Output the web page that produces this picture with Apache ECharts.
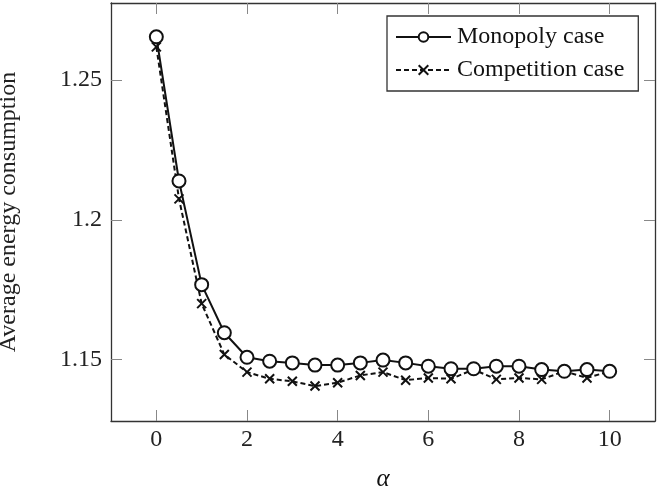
<!DOCTYPE html>
<html>
<head>
<meta charset="utf-8">
<script src="https://cdn.jsdelivr.net/npm/echarts@6/dist/echarts.min.js"></script>
<style>
  html, body { margin: 0; padding: 0; background: #fff; }
  #chart { width: 663px; height: 490px; }
</style>
</head>
<body>
<div id="chart"></div>
<script>
// alpha values (x axis)
const alpha = [0, 0.5, 1, 1.5, 2, 2.5, 3, 3.5, 4, 4.5, 5, 5.5, 6, 6.5, 7, 7.5, 8, 8.5, 9, 9.5, 10];

const monopoly = [1.2655, 1.2139, 1.1768, 1.1596, 1.1508, 1.1494, 1.1488, 1.1480, 1.1480, 1.1488, 1.1498,
  1.1488, 1.1476, 1.1467, 1.1467, 1.1476, 1.1476, 1.1464, 1.1458, 1.1464, 1.1458];

const competition = [1.2619, 1.2075, 1.1700, 1.1518, 1.1455, 1.1431, 1.1422, 1.1405, 1.1417, 1.1443, 1.1455,
  1.1426, 1.1434, 1.1431, 1.1464, 1.1429, 1.1434, 1.1429, 1.1458, 1.1434, 1.1458];

const xTicks = [0, 2, 4, 6, 8, 10];
const yTicks = [1.15, 1.2, 1.25];

const font = 'Liberation Serif';
const frameColor = '#333';
const tickColor = '#888';

const chart = echarts.init(document.getElementById('chart'));

const pair = (xs, ys) => xs.map((x, i) => [x, ys[i]]);

const baseX = {
  type: 'value',
  min: -1,
  max: 11,
  axisLine: { show: true, onZero: false, lineStyle: { color: frameColor, width: 1.3 } },
  axisTick: { show: true, inside: true, length: 11, customValues: xTicks, lineStyle: { color: tickColor, width: 1 } },
  splitLine: { show: false }
};
const baseY = {
  type: 'value',
  min: 1.128,
  max: 1.2776,
  axisLine: { show: true, onZero: false, lineStyle: { color: frameColor, width: 1.3 } },
  axisTick: { show: true, inside: true, length: 11, customValues: yTicks, lineStyle: { color: tickColor, width: 1 } },
  splitLine: { show: false }
};

const option = {
  animation: false,
  backgroundColor: '#fff',
  textStyle: { fontFamily: font },
  grid: { left: 111, right: 8, top: 3, bottom: 69, outerBoundsMode: 'none', containLabel: false },
  legend: {
    orient: 'vertical',
    left: 387,
    top: 16,
    padding: [9, 14, 9, 8],
    itemGap: 9,
    itemWidth: 55,
    itemHeight: 12,
    backgroundColor: '#fff',
    borderColor: frameColor,
    borderWidth: 1.3,
    borderRadius: 0,
    textStyle: { fontFamily: font, fontSize: 24, color: '#111', padding: [0, 0, 0, 1] },
    data: ['Monopoly case', 'Competition case']
  },
  xAxis: [
    Object.assign({}, baseX, {
      position: 'bottom',
      name: 'α',
      nameLocation: 'middle',
      nameGap: 46,
      nameTextStyle: { fontFamily: font, fontStyle: 'italic', fontSize: 25, color: '#111' },
      axisLabel: { show: true, customValues: xTicks, margin: 7, fontFamily: font, fontSize: 24, color: '#222' }
    }),
    Object.assign({}, baseX, { position: 'top', axisLabel: { show: false } })
  ],
  yAxis: [
    Object.assign({}, baseY, {
      position: 'left',
      name: 'Average energy consumption',
      nameLocation: 'middle',
      nameGap: 90,
      nameTextStyle: { fontFamily: font, fontSize: 24, color: '#222' },
      axisLabel: { show: true, customValues: yTicks, margin: 9, fontFamily: font, fontSize: 24, color: '#222',
        formatter: v => String(+v.toFixed(2)) }
    }),
    Object.assign({}, baseY, { position: 'right', axisLabel: { show: false } })
  ],
  series: [
    {
      name: 'Monopoly case',
      type: 'line',
      xAxisIndex: 0,
      yAxisIndex: 0,
      data: pair(alpha, monopoly),
      symbol: 'emptyCircle',
      symbolSize: 13,
      showAllSymbol: true,
      itemStyle: { color: '#111', borderColor: '#111', borderWidth: 2 },
      lineStyle: { color: '#111', width: 2, type: 'solid' },
      z: 3
    },
    {
      name: 'Competition case',
      type: 'line',
      xAxisIndex: 0,
      yAxisIndex: 0,
      data: pair(alpha, competition),
      symbol: 'path://M0,0L10,10M10,0L0,10',
      symbolSize: 9,
      showAllSymbol: true,
      itemStyle: { color: '#111', borderColor: '#111', borderWidth: 2 },
      lineStyle: { color: '#111', width: 2, type: [5, 3] },
      z: 2
    }
  ]
};

chart.setOption(option);
</script>
</body>
</html>
